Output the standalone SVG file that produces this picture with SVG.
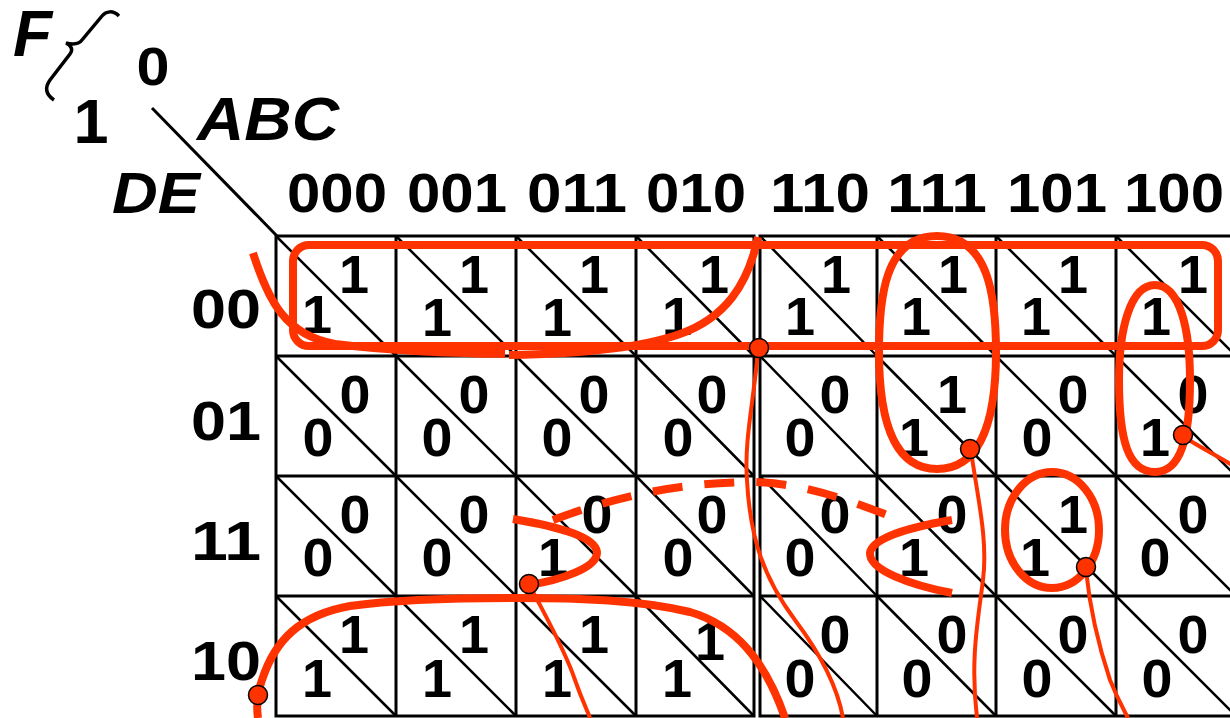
<svg xmlns="http://www.w3.org/2000/svg" width="1230" height="718" viewBox="0 0 1230 718">
<style>
.b{font-family:"Liberation Sans",Arial,sans-serif;font-weight:bold;fill:#000}
.i{font-family:"Liberation Sans",Arial,sans-serif;font-weight:bold;font-style:italic;fill:#000}
.h{font-size:56px;text-anchor:middle}
.rl{font-size:56px;text-anchor:end}
.d{font-size:54px;text-anchor:middle}
.g{stroke:#000;stroke-width:3;fill:none}
.dg{stroke:#000;stroke-width:2.5;fill:none}
.r{stroke:#FF3300;stroke-width:8;fill:none;stroke-linecap:butt}
.t{stroke:#FF3300;stroke-width:4;fill:none}
.dot{fill:#FF3300;stroke:#000;stroke-width:1.5}
</style>
<rect width="1230" height="718" fill="#fff"/>
<g id="corner">
<text class="i" x="13" y="56" font-size="64">F</text>
<path d="M119,16 C113,10 106,11 102,16 L82,40 C79,44 74,45 66,43 C72,46 73,50 70,54 L50,80 C45,87 45,94 54,100" stroke="#000" stroke-width="3.5" fill="none"/>
<text class="b" x="153" y="85" font-size="54" text-anchor="middle" textLength="33" lengthAdjust="spacingAndGlyphs">0</text>
<text class="b" x="91" y="143" font-size="63" text-anchor="middle">1</text>
<text class="i" x="197" y="140" font-size="61" textLength="142" lengthAdjust="spacingAndGlyphs">ABC</text>
<text class="i" x="112" y="213" font-size="58" textLength="88" lengthAdjust="spacingAndGlyphs">DE</text>
<line x1="152" y1="108" x2="277" y2="236" stroke="#000" stroke-width="3"/>
</g>
<g id="col-headers">
<text class="b h" x="337" y="212" textLength="100" lengthAdjust="spacingAndGlyphs">000</text>
<text class="b h" x="457" y="212" textLength="100" lengthAdjust="spacingAndGlyphs">001</text>
<text class="b h" x="577" y="212" textLength="100" lengthAdjust="spacingAndGlyphs">011</text>
<text class="b h" x="696" y="212" textLength="100" lengthAdjust="spacingAndGlyphs">010</text>
<text class="b h" x="820" y="212" textLength="100" lengthAdjust="spacingAndGlyphs">110</text>
<text class="b h" x="937" y="212" textLength="100" lengthAdjust="spacingAndGlyphs">111</text>
<text class="b h" x="1057" y="212" textLength="100" lengthAdjust="spacingAndGlyphs">101</text>
<text class="b h" x="1174" y="212" textLength="100" lengthAdjust="spacingAndGlyphs">100</text>
</g>
<g id="row-headers">
<text class="b rl" x="261" y="328" textLength="70" lengthAdjust="spacingAndGlyphs">00</text>
<text class="b rl" x="261" y="440" textLength="70" lengthAdjust="spacingAndGlyphs">01</text>
<text class="b rl" x="261" y="560" textLength="70" lengthAdjust="spacingAndGlyphs">11</text>
<text class="b rl" x="261" y="680" textLength="70" lengthAdjust="spacingAndGlyphs">10</text>
</g>
<g id="grid">
<rect class="g" x="276" y="236" width="478" height="480"/>
<rect class="g" x="760" y="236" width="476" height="480"/>
<line class="g" x1="396" y1="236" x2="396" y2="716"/>
<line class="g" x1="516" y1="236" x2="516" y2="716"/>
<line class="g" x1="636" y1="236" x2="636" y2="716"/>
<line class="g" x1="877" y1="236" x2="877" y2="716"/>
<line class="g" x1="996" y1="236" x2="996" y2="716"/>
<line class="g" x1="1116" y1="236" x2="1116" y2="716"/>
<line class="g" x1="276" y1="356" x2="754" y2="356"/>
<line class="g" x1="276" y1="476" x2="754" y2="476"/>
<line class="g" x1="276" y1="596" x2="754" y2="596"/>
<line class="g" x1="760" y1="356" x2="1236" y2="356"/>
<line class="g" x1="760" y1="476" x2="1236" y2="476"/>
<line class="g" x1="760" y1="596" x2="1236" y2="596"/>
</g>
<g id="diagonals">
<path class="dg" d="M276,236L396,356M396,236L516,356M516,236L636,356M636,236L754,356M760,236L877,356M877,236L996,356M996,236L1116,356M1116,236L1236,356"/>
<path class="dg" d="M276,356L396,476M396,356L516,476M516,356L636,476M636,356L754,476M760,356L877,476M877,356L996,476M996,356L1116,476M1116,356L1236,476"/>
<path class="dg" d="M276,476L396,596M396,476L516,596M516,476L636,596M636,476L754,596M760,476L877,596M877,476L996,596M996,476L1116,596M1116,476L1236,596"/>
<path class="dg" d="M276,596L396,716M396,596L516,716M516,596L636,716M636,596L754,716M760,596L877,716M877,596L996,716M996,596L1116,716M1116,596L1236,716"/>
</g>
<g id="row-00" class="b d">
<text x="354" y="293">1</text><text x="317" y="333">1</text>
<text x="474" y="293">1</text><text x="437" y="336">1</text>
<text x="594" y="293">1</text><text x="557" y="336">1</text>
<text x="714" y="293">1</text><text x="677" y="335">1</text>
<text x="836" y="293">1</text><text x="800" y="335">1</text>
<text x="953" y="293">1</text><text x="916" y="335">1</text>
<text x="1073" y="293">1</text><text x="1036" y="335">1</text>
<text x="1193" y="293">1</text><text x="1156" y="335">1</text>
</g>
<g id="row-01" class="b d">
<text x="355" y="413" textLength="31" lengthAdjust="spacingAndGlyphs">0</text><text x="318" y="456" textLength="31" lengthAdjust="spacingAndGlyphs">0</text>
<text x="474" y="413" textLength="31" lengthAdjust="spacingAndGlyphs">0</text><text x="437" y="456" textLength="31" lengthAdjust="spacingAndGlyphs">0</text>
<text x="594" y="413" textLength="31" lengthAdjust="spacingAndGlyphs">0</text><text x="557" y="456" textLength="31" lengthAdjust="spacingAndGlyphs">0</text>
<text x="712" y="413" textLength="31" lengthAdjust="spacingAndGlyphs">0</text><text x="678" y="456" textLength="31" lengthAdjust="spacingAndGlyphs">0</text>
<text x="835" y="413" textLength="31" lengthAdjust="spacingAndGlyphs">0</text><text x="800" y="456" textLength="31" lengthAdjust="spacingAndGlyphs">0</text>
<text x="952" y="413">1</text><text x="914" y="456">1</text>
<text x="1073" y="413" textLength="31" lengthAdjust="spacingAndGlyphs">0</text><text x="1037" y="456" textLength="31" lengthAdjust="spacingAndGlyphs">0</text>
<text x="1193" y="413" textLength="31" lengthAdjust="spacingAndGlyphs">0</text><text x="1155" y="456">1</text>
</g>
<g id="row-11" class="b d">
<text x="355" y="533" textLength="31" lengthAdjust="spacingAndGlyphs">0</text><text x="318" y="576" textLength="31" lengthAdjust="spacingAndGlyphs">0</text>
<text x="474" y="533" textLength="31" lengthAdjust="spacingAndGlyphs">0</text><text x="437" y="576" textLength="31" lengthAdjust="spacingAndGlyphs">0</text>
<text x="597" y="533" textLength="31" lengthAdjust="spacingAndGlyphs">0</text><text x="553" y="576">1</text>
<text x="712" y="533" textLength="31" lengthAdjust="spacingAndGlyphs">0</text><text x="678" y="576" textLength="31" lengthAdjust="spacingAndGlyphs">0</text>
<text x="835" y="533" textLength="31" lengthAdjust="spacingAndGlyphs">0</text><text x="800" y="576" textLength="31" lengthAdjust="spacingAndGlyphs">0</text>
<text x="952" y="533" textLength="31" lengthAdjust="spacingAndGlyphs">0</text><text x="914" y="576">1</text>
<text x="1073" y="533">1</text><text x="1035" y="576">1</text>
<text x="1193" y="533" textLength="31" lengthAdjust="spacingAndGlyphs">0</text><text x="1155" y="576" textLength="31" lengthAdjust="spacingAndGlyphs">0</text>
</g>
<g id="row-10" class="b d">
<text x="354" y="653">1</text><text x="317" y="697">1</text>
<text x="474" y="653">1</text><text x="437" y="697">1</text>
<text x="594" y="653">1</text><text x="557" y="697">1</text>
<text x="710" y="660">1</text><text x="677" y="697">1</text>
<text x="835" y="653" textLength="31" lengthAdjust="spacingAndGlyphs">0</text><text x="800" y="697" textLength="31" lengthAdjust="spacingAndGlyphs">0</text>
<text x="952" y="653" textLength="31" lengthAdjust="spacingAndGlyphs">0</text><text x="917" y="697" textLength="31" lengthAdjust="spacingAndGlyphs">0</text>
<text x="1073" y="653" textLength="31" lengthAdjust="spacingAndGlyphs">0</text><text x="1037" y="697" textLength="31" lengthAdjust="spacingAndGlyphs">0</text>
<text x="1193" y="653" textLength="31" lengthAdjust="spacingAndGlyphs">0</text><text x="1157" y="697" textLength="31" lengthAdjust="spacingAndGlyphs">0</text>
</g>
<g id="connectors">
<rect class="r" x="293" y="245" width="925" height="101" rx="16"/>
<path class="r" d="M253,253 C268,300 285,335 335,344 C400,352 460,353 505,354"/>
<path class="r" d="M509,355 C580,354 640,348 680,334 C725,318 748,285 758,237"/>
<path class="r" d="M937,236 C990,236 996,300 996,352 C996,410 985,469 937,469 C889,469 879,410 879,352 C879,300 884,236 937,236 Z"/>
<path class="r" d="M1155,285 C1180,285 1190,330 1190,380 C1190,440 1180,472 1155,472 C1128,472 1119,440 1119,380 C1119,330 1130,285 1155,285 Z"/>
<path class="r" d="M513,519 C560,527 595,537 597,552 C598,568 560,580 529,585"/>
<path class="r" d="M553,520 C620,495 680,483 750,482 C800,482 850,500 905,522" stroke-dasharray="30 22"/>
<path class="r" d="M952,520 C910,527 872,538 870,553 C869,570 910,585 952,593"/>
<ellipse class="r" cx="1052" cy="530" rx="47" ry="58"/>
<path class="r" d="M258,718 C256,705 258,690 262,680 C275,640 300,615 350,606 C400,599 460,598 516,598 C580,598 640,600 690,612 C735,625 765,660 785,718"/>
<path class="t" d="M758,350 C754,400 744,440 747,480 C750,540 765,580 795,620 C825,660 838,690 843,718"/>
<path class="t" d="M971,451 C978,500 988,540 983,580 C978,620 970,660 977,718"/>
<path class="t" d="M1184,437 C1200,447 1215,455 1232,465"/>
<path class="t" d="M531,588 C545,615 565,650 575,680 C582,700 587,710 590,718"/>
<path class="t" d="M1086,570 C1090,610 1100,650 1110,680 C1118,700 1124,710 1128,718"/>
<circle class="dot" cx="759" cy="348" r="9.5"/>
<circle class="dot" cx="970" cy="449" r="9.5"/>
<circle class="dot" cx="1183" cy="435" r="9.5"/>
<circle class="dot" cx="529" cy="584" r="9.5"/>
<circle class="dot" cx="1086" cy="567" r="9.5"/>
<circle class="dot" cx="258" cy="695" r="9.5"/>
</g>
</svg>
